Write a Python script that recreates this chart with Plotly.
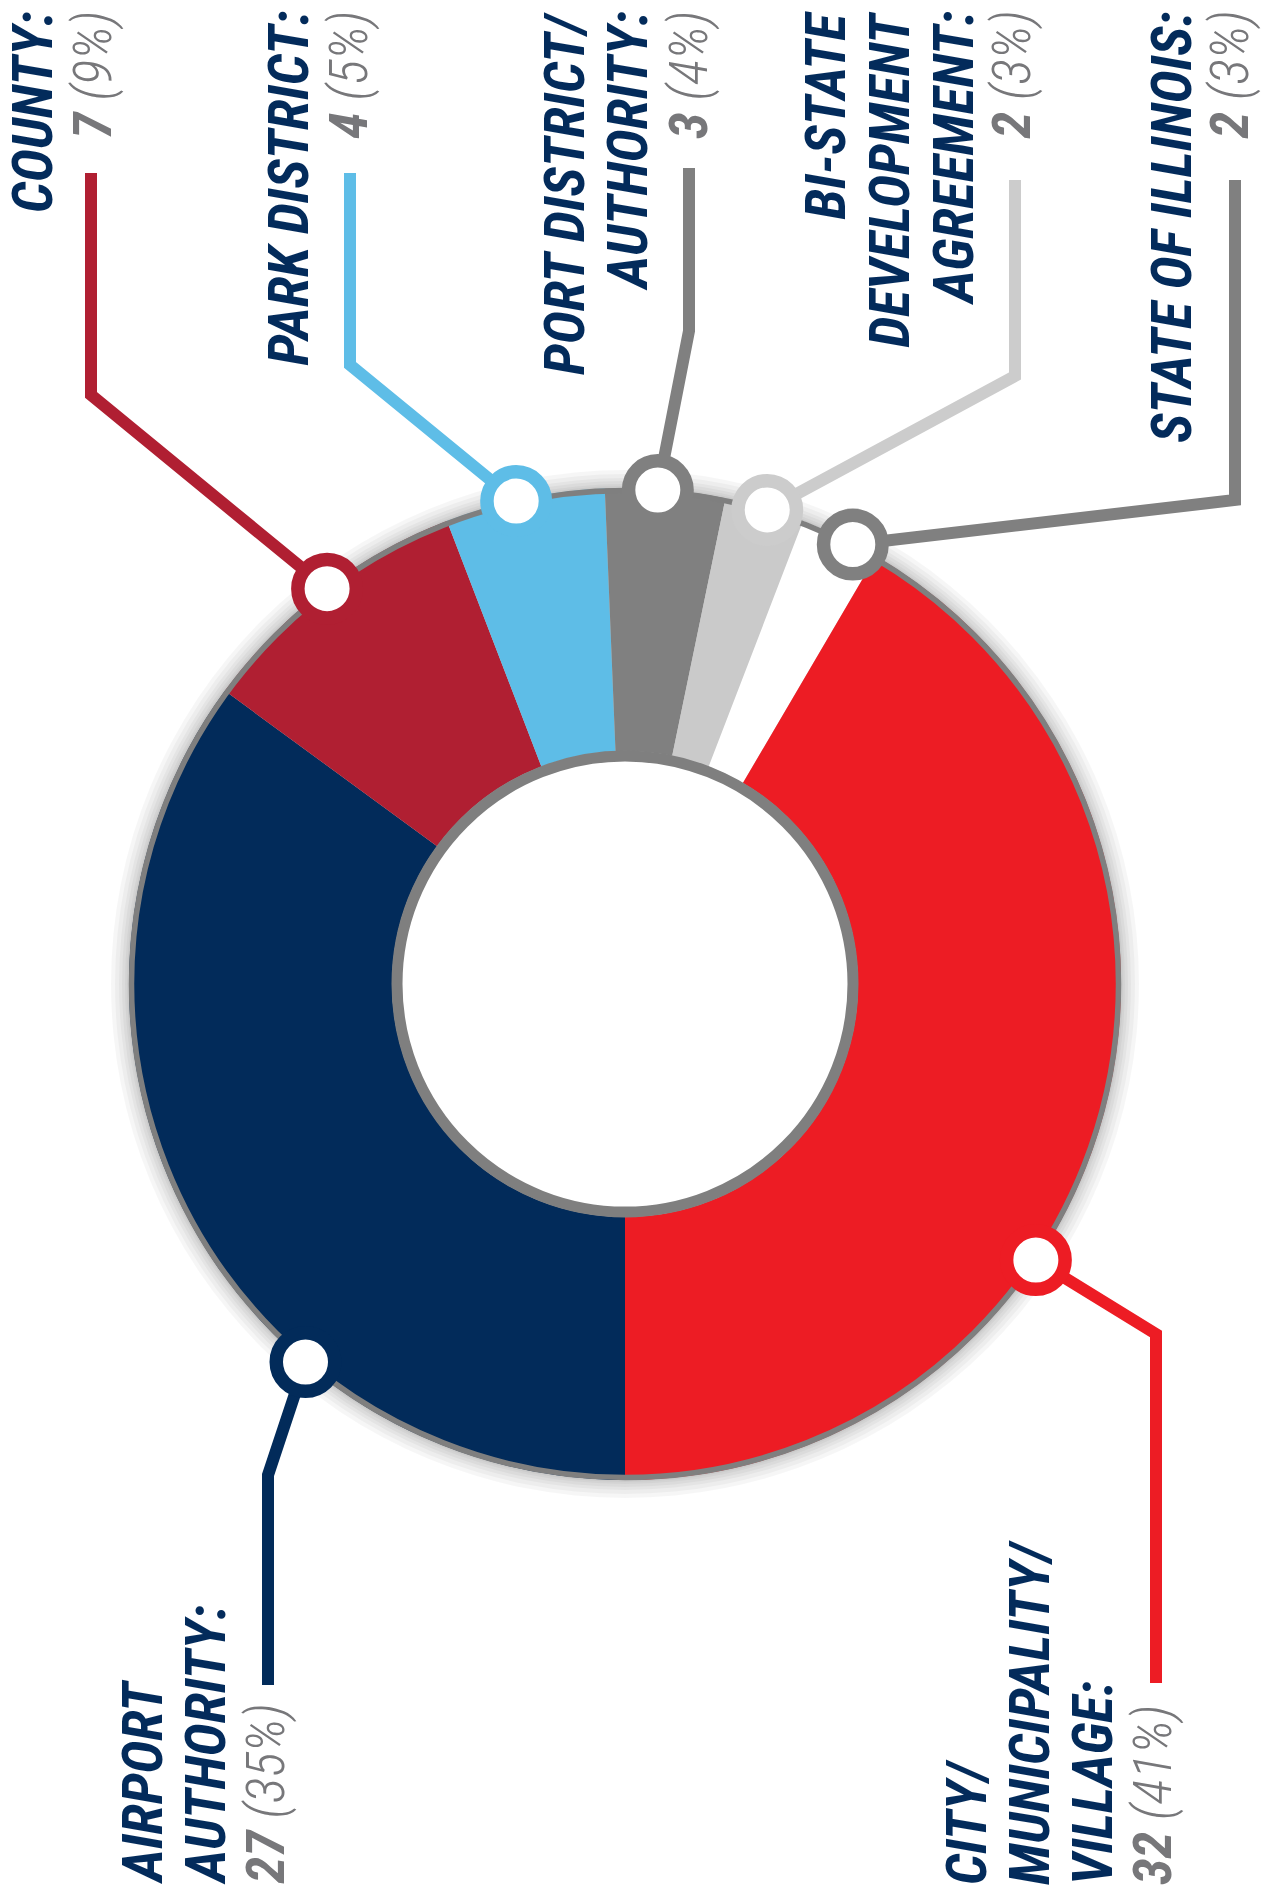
import math
import plotly.graph_objects as go

# ---------------- data ----------------
categories = ["Airport Authority", "County", "Park District", "Port District/Authority",
              "Bi-State Development Agreement", "State of Illinois", "City/Municipality/Village"]
counts = [27, 7, 4, 3, 2, 2, 32]
percents = [35, 9, 5, 4, 3, 3, 41]
label_lines = [["AIRPORT", "AUTHORITY:"],
               ["COUNTY:"],
               ["PARK DISTRICT:"],
               ["PORT DISTRICT/", "AUTHORITY:"],
               ["BI-STATE", "DEVELOPMENT", "AGREEMENT:"],
               ["STATE OF ILLINOIS:"],
               ["CITY/", "MUNICIPALITY/", "VILLAGE:"]]
slice_colors = ["#022b5a", "#b01f32", "#5ebde7", "#808080", "#cacaca", "#ffffff", "#ed1c24"]
accent_colors = ["#022b5a", "#b01f32", "#5ebde7", "#808080", "#cccccc", "#808080", "#ed1c24"]

# ---------------- layout geometry (pixels) ----------------
W, H = 1271, 1892
CX, CY = 625, 984
R_OUT = 496
R_IN = 233
NAVY = "#032b5b"
FONT = "Roboto Condensed, Liberation Sans Narrow, DejaVu Sans Condensed, sans-serif"

marker_angles = [220.2, 323.0, 347.3, 3.8, 16.7, 27.4, 123.9]   # deg clockwise from 12 o'clock
corners = [(268, 1475), (91, 395), (350, 365), (689, 331), (1015, 376), (1235, 500), (1156, 1334)]
line_ends = [(268, 1685), (91, 173), (350, 173), (689, 168), (1015, 180), (1235, 180), (1156, 1683)]
text_cols = [[142, 206, 265], [33, 92], [288, 348], [565, 628, 688],
             [825, 889, 953, 1011], [1172, 1229], [967, 1030, 1093, 1152]]
text_at_bottom = [True, False, False, False, False, False, True]
TOP_Y, BOTTOM_Y = 10, 1886

fig = go.Figure()

fig.add_trace(go.Pie(
    labels=categories, values=counts, sort=False, direction="clockwise", rotation=180,
    hole=R_IN / R_OUT, marker=dict(colors=slice_colors, line=dict(width=0)),
    textinfo="none", hoverinfo="skip", showlegend=False,
    domain=dict(x=[(CX - R_OUT) / W, (CX + R_OUT) / W],
                y=[1 - (CY + R_OUT) / H, 1 - (CY - R_OUT) / H]),
))

shapes = []
# soft shadow around the ring
for k, r in enumerate([514, 510, 506, 503, 500, 498]):
    shapes.append(dict(type="circle", xref="x", yref="y", layer="below",
                       x0=CX - r, x1=CX + r, y0=CY - r, y1=CY + r,
                       fillcolor="rgba(0,0,0,0.035)", line=dict(width=0)))
# outer & inner gray borders
shapes.append(dict(type="circle", xref="x", yref="y", layer="above",
                   x0=CX - (R_OUT - 2.5), x1=CX + (R_OUT - 2.5), y0=CY - (R_OUT - 2.5), y1=CY + (R_OUT - 2.5),
                   line=dict(color="#7f7f7f", width=5.5)))
ri = R_IN - 5
shapes.append(dict(type="circle", xref="x", yref="y", layer="above",
                   x0=CX - ri, x1=CX + ri, y0=CY - ri, y1=CY + ri,
                   fillcolor="white", line=dict(color="#7f7f7f", width=11)))

# leader lines
markers = []
for i in range(len(categories)):
    a = math.radians(marker_angles[i])
    mx = CX + (R_OUT - 1) * math.sin(a)
    my = CY - (R_OUT - 1) * math.cos(a)
    markers.append((mx, my))
    (cx_, cy_), (ex, ey) = corners[i], line_ends[i]
    shapes.append(dict(type="path", xref="x", yref="y", layer="above",
                       path=f"M {mx:.1f} {my:.1f} L {cx_} {cy_} L {ex} {ey}",
                       line=dict(color=accent_colors[i], width=12)))
# marker circles
mr = 29.25
for i, (mx, my) in enumerate(markers):
    shapes.append(dict(type="circle", xref="x", yref="y", layer="above",
                       x0=mx - mr, x1=mx + mr, y0=my - mr, y1=my + mr,
                       fillcolor="white", line=dict(color=accent_colors[i], width=13.5)))

# labels (rotated text, one annotation per line)
annotations = []
for i in range(len(categories)):
    lines = [(t, True) for t in label_lines[i]]
    lines.append((f"<b>{counts[i]}</b> ({percents[i]}%)", False))
    for j, (t, is_title) in enumerate(lines):
        annotations.append(dict(
            x=text_cols[i][j], y=BOTTOM_Y if text_at_bottom[i] else TOP_Y,
            xref="x", yref="y", showarrow=False, textangle=-90,
            xanchor="center", yanchor="bottom" if text_at_bottom[i] else "top",
            text=f"<b>{t}</b>" if is_title else t,
            font=dict(family=FONT, size=56 if is_title else 54, style="italic",
                      weight=400 if is_title else 300,
                      color=NAVY if is_title else "#77777a"),
            borderpad=0,
        ))

fig.update_layout(
    width=W, height=H, margin=dict(l=0, r=0, t=0, b=0),
    paper_bgcolor="white", plot_bgcolor="rgba(0,0,0,0)",
    xaxis=dict(range=[0, W], visible=False, fixedrange=True, domain=[0, 1]),
    yaxis=dict(range=[H, 0], visible=False, fixedrange=True, domain=[0, 1]),
    shapes=shapes, annotations=annotations,
)

fig.write_html("out.html", config={"displayModeBar": False, "staticPlot": True},
               post_script="document.body.style.margin='0';")
